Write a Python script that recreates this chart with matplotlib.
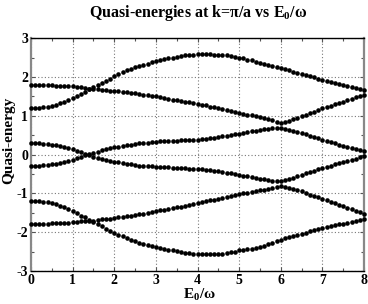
import numpy as np
import matplotlib
matplotlib.use("Agg")
import matplotlib.pyplot as plt
from matplotlib.ticker import MultipleLocator

plt.rcParams['font.family'] = ['Liberation Serif', 'DejaVu Serif']
plt.rcParams['font.weight'] = 'bold'
plt.rcParams['axes.unicode_minus'] = False

x_vals = [round(0.1 * i, 1) for i in range(81)]

curve_u1 = [1.20, 1.20, 1.21, 1.22, 1.24, 1.26, 1.29, 1.33, 1.37, 1.41,
            1.46, 1.51, 1.57, 1.62, 1.68, 1.74, 1.80, 1.85, 1.91, 1.96,
            2.02, 2.07, 2.12, 2.17, 2.21, 2.25, 2.29, 2.32, 2.35, 2.38,
            2.41, 2.43, 2.46, 2.48, 2.50, 2.52, 2.54, 2.56, 2.57, 2.58,
            2.59, 2.59, 2.59, 2.59, 2.58, 2.58, 2.57, 2.56, 2.54, 2.52,
            2.50, 2.48, 2.45, 2.43, 2.40, 2.37, 2.34, 2.31, 2.29, 2.26,
            2.23, 2.20, 2.17, 2.14, 2.11, 2.08, 2.05, 2.02, 1.99, 1.96,
            1.93, 1.90, 1.87, 1.85, 1.82, 1.79, 1.77, 1.74, 1.72, 1.69,
            1.67]

curve_u2 = [1.80, 1.80, 1.80, 1.80, 1.79, 1.79, 1.78, 1.78, 1.77, 1.77,
            1.76, 1.75, 1.74, 1.72, 1.70, 1.69, 1.68, 1.67, 1.66, 1.65,
            1.64, 1.63, 1.62, 1.61, 1.60, 1.58, 1.57, 1.55, 1.53, 1.52,
            1.50, 1.48, 1.46, 1.44, 1.42, 1.41, 1.39, 1.37, 1.35, 1.33,
            1.31, 1.29, 1.27, 1.24, 1.22, 1.19, 1.17, 1.14, 1.12, 1.09,
            1.07, 1.05, 1.03, 1.01, 0.99, 0.97, 0.95, 0.92, 0.89, 0.85,
            0.82, 0.85, 0.88, 0.92, 0.95, 0.99, 1.03, 1.07, 1.11, 1.15,
            1.19, 1.23, 1.26, 1.30, 1.33, 1.37, 1.41, 1.44, 1.48, 1.51,
            1.55]

curve_m1 = [-0.29, -0.29, -0.28, -0.27, -0.26, -0.25, -0.23, -0.21, -0.18, -0.16,
            -0.13, -0.09, -0.06, -0.02, 0.02, 0.05, 0.08, 0.11, 0.14, 0.16,
            0.19, 0.21, 0.23, 0.25, 0.26, 0.28, 0.29, 0.30, 0.31, 0.32,
            0.33, 0.34, 0.35, 0.35, 0.36, 0.36, 0.37, 0.37, 0.38, 0.38,
            0.39, 0.40, 0.41, 0.42, 0.44, 0.45, 0.47, 0.49, 0.50, 0.52,
            0.54, 0.56, 0.58, 0.60, 0.62, 0.63, 0.65, 0.66, 0.68, 0.69,
            0.70, 0.67, 0.64, 0.61, 0.58, 0.55, 0.52, 0.48, 0.45, 0.42,
            0.39, 0.36, 0.33, 0.29, 0.26, 0.23, 0.20, 0.17, 0.14, 0.12,
            0.09]

curve_m2 = [0.30, 0.30, 0.29, 0.28, 0.27, 0.26, 0.24, 0.22, 0.19, 0.17,
            0.14, 0.10, 0.06, 0.02, -0.02, -0.05, -0.08, -0.11, -0.13, -0.16,
            -0.18, -0.20, -0.22, -0.24, -0.25, -0.27, -0.28, -0.29, -0.30, -0.30,
            -0.31, -0.32, -0.33, -0.33, -0.34, -0.34, -0.35, -0.35, -0.36, -0.36,
            -0.37, -0.38, -0.39, -0.40, -0.42, -0.43, -0.45, -0.47, -0.48, -0.50,
            -0.52, -0.54, -0.56, -0.58, -0.60, -0.62, -0.64, -0.66, -0.67, -0.68,
            -0.69, -0.66, -0.62, -0.59, -0.55, -0.52, -0.48, -0.45, -0.41, -0.37,
            -0.34, -0.31, -0.28, -0.25, -0.22, -0.19, -0.16, -0.13, -0.10, -0.07,
            -0.04]

curve_l2 = [-1.79, -1.79, -1.79, -1.78, -1.78, -1.77, -1.77, -1.76, -1.76, -1.75,
            -1.74, -1.73, -1.72, -1.71, -1.70, -1.70, -1.69, -1.67, -1.66, -1.65,
            -1.63, -1.62, -1.60, -1.59, -1.57, -1.55, -1.53, -1.52, -1.50, -1.48,
            -1.46, -1.44, -1.42, -1.40, -1.38, -1.36, -1.34, -1.32, -1.29, -1.27,
            -1.25, -1.23, -1.20, -1.18, -1.16, -1.14, -1.11, -1.09, -1.07, -1.04,
            -1.02, -1.00, -0.98, -0.96, -0.94, -0.92, -0.90, -0.88, -0.86, -0.83,
            -0.80, -0.83, -0.86, -0.89, -0.92, -0.95, -0.99, -1.03, -1.06, -1.10,
            -1.14, -1.18, -1.22, -1.25, -1.29, -1.33, -1.37, -1.41, -1.45, -1.48,
            -1.52]

curve_l1 = [-1.19, -1.19, -1.20, -1.21, -1.23, -1.25, -1.28, -1.32, -1.36, -1.41,
            -1.46, -1.51, -1.57, -1.62, -1.68, -1.74, -1.80, -1.85, -1.91, -1.96,
            -2.02, -2.07, -2.11, -2.16, -2.19, -2.23, -2.27, -2.30, -2.33, -2.36,
            -2.38, -2.41, -2.43, -2.45, -2.47, -2.49, -2.51, -2.53, -2.54, -2.55,
            -2.56, -2.56, -2.56, -2.56, -2.56, -2.55, -2.55, -2.54, -2.52, -2.50,
            -2.47, -2.46, -2.44, -2.42, -2.40, -2.38, -2.35, -2.31, -2.27, -2.23,
            -2.19, -2.16, -2.13, -2.10, -2.07, -2.04, -2.01, -1.98, -1.95, -1.92,
            -1.89, -1.87, -1.84, -1.82, -1.80, -1.78, -1.75, -1.73, -1.71, -1.68,
            -1.66]

x_ticks = [0, 1, 2, 3, 4, 5, 6, 7, 8]
y_ticks = [-3, -2, -1, 0, 1, 2, 3]

fig = plt.figure(figsize=(3.68, 3.04), dpi=100)
ax = fig.add_axes([31/368, 1 - 271/304, 333/368, (271 - 38.3)/304])

for c in [curve_u1, curve_u2, curve_m1, curve_m2, curve_l2, curve_l1]:
    ax.plot(x_vals, c, linestyle='none', marker='o', markersize=3.3,
            color='black', markeredgewidth=0, clip_on=False, zorder=3)

ax.set_xlim(0, 8)
ax.set_ylim(-3, 3)
ax.set_xticks(x_ticks)
ax.set_yticks(y_ticks)
ax.xaxis.set_minor_locator(MultipleLocator(0.5))
ax.yaxis.set_minor_locator(MultipleLocator(0.5))
ax.tick_params(which='both', direction='in', top=True, right=True,
               labelsize=10, pad=2, width=0.8, color='#555555')
ax.tick_params(which='major', length=3)
ax.tick_params(which='minor', length=2.5)
for lab in ax.get_xticklabels() + ax.get_yticklabels():
    lab.set_fontweight('bold')

ax.grid(True, which='major', linestyle=(0, (1, 2)), color='#777777', linewidth=0.8)

for side in ['top', 'bottom']:
    ax.spines[side].set_color('black')
    ax.spines[side].set_linewidth(1.0)
for side in ['left', 'right']:
    ax.spines[side].set_color('#888888')
    ax.spines[side].set_linewidth(1.6)

fig.text(198/368, 1 - 13/304, 'Quasi-energies at k=\u03c0/a vs E$_{\\mathregular{0}}$/\u03c9',
         ha='center', va='center', fontsize=11.5, fontweight='bold')
ax.set_ylabel('Quasi-energy', fontsize=11, fontweight='bold')
ax.yaxis.label.set_va('center')
ax.yaxis.set_label_coords(-0.066, 0.563)
ax.set_xlabel('E$_{\\mathregular{0}}$/\u03c9', fontsize=11, fontweight='bold')
ax.xaxis.label.set_va('center')
ax.xaxis.set_label_coords(0.505, -0.1)

fig.savefig('out.png', dpi=100)
